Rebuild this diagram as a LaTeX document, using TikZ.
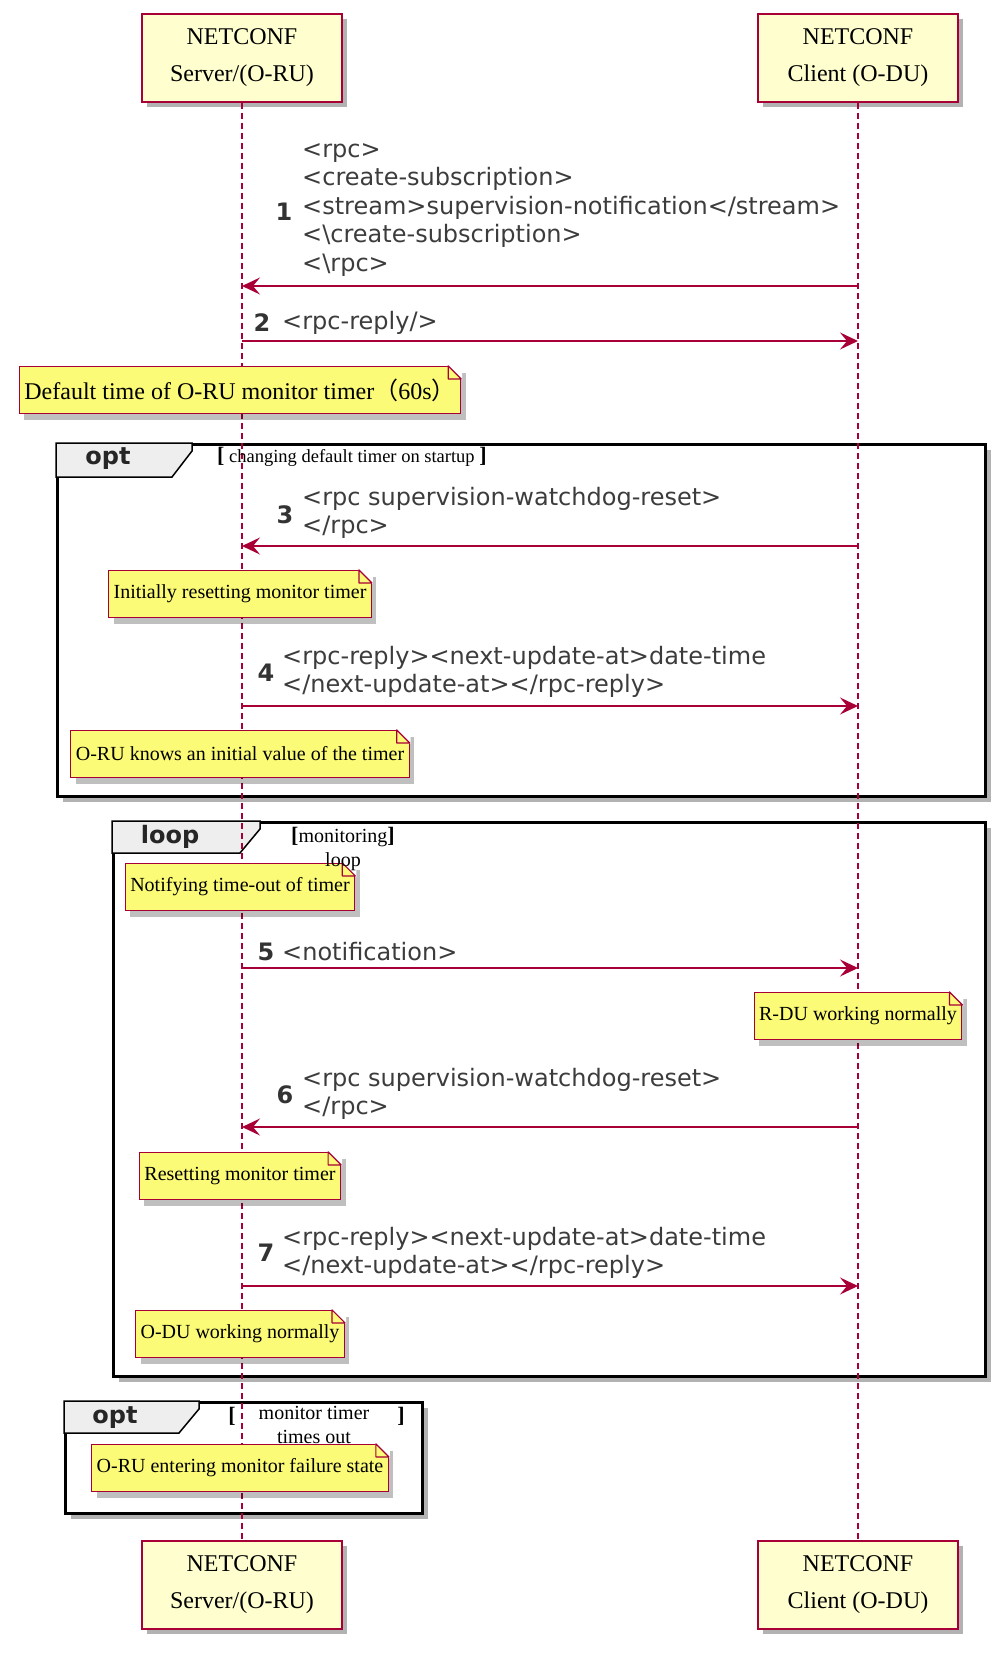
\documentclass[tikz,border=0pt]{standalone}
\usepackage{fontspec}
\setmainfont{Liberation Serif}
\newfontfamily\msgfont{DejaVu Sans}
\newfontfamily\cjk{Noto Sans CJK SC}
\usetikzlibrary{positioning,shadows,arrows.meta}
\definecolor{umlred}{HTML}{A80036}
\definecolor{partfill}{HTML}{FEFECE}
\definecolor{notefill}{HTML}{FBFB77}
\definecolor{tabfill}{HTML}{EEEEEE}
\definecolor{msgtext}{HTML}{3C3C3C}
% folded corner of a note
\def\dogear#1{%
  \fill[white] ([xshift=1pt,yshift=1pt]#1.north east) -- ([xshift=-14.5pt,yshift=1pt]#1.north east) -- ([xshift=1pt,yshift=-14.5pt]#1.north east) -- cycle;
  \filldraw[draw=umlred,fill=notefill,line width=1.2pt,line join=round] ([xshift=-13pt]#1.north east) -- ([xshift=-13pt,yshift=-13pt]#1.north east) -- ([yshift=-13pt]#1.north east) -- cycle;}
\def\brk#1{{\fontsize{22}{22}\selectfont\textbf{#1}}}

\begin{document}
\begin{tikzpicture}[%
        x=1pt,y=-1pt,
        party/.style={%
          draw=umlred, fill=partfill, line width=2pt,
          align=center, minimum width=200pt, minimum height=88pt,
          font=\fontsize{24}{37}\selectfont,
          drop shadow={shadow xshift=5pt,shadow yshift=-5pt,fill=black,opacity=.3}
        },
        life/.style={draw=umlred, line width=1.1pt, dash pattern=on 6pt off 4pt},
        frame/.style={%
          draw=black, fill=white, line width=3pt, anchor=north west,
          drop shadow={shadow xshift=5pt,shadow yshift=-5pt,fill=black,opacity=.3}
        },
        tab/.style={draw=black, fill=tabfill, line width=1.5pt},
        tablabel/.style={font=\msgfont\bfseries\fontsize{24}{28}\selectfont, text=black!85},
        cond/.style={font=\fontsize{20}{24}\selectfont, align=center, inner sep=1pt},
        note/.style={%
          draw=umlred, fill=notefill, line width=1.2pt,
          minimum height=47pt, inner xsep=5pt,
          font=\fontsize{20}{24}\selectfont,
          drop shadow={shadow xshift=5pt,shadow yshift=-6pt,fill=black,opacity=.25}
        },
        msg/.style={draw=umlred, line width=1.5pt, -{Stealth[length=18pt,width=17pt,inset=7pt]}},
        msgtext/.style={font=\msgfont\fontsize{24}{28.5}\selectfont, text=msgtext, align=left, anchor=west, inner sep=0pt},
        msgnum/.style={font=\msgfont\bfseries\fontsize{24}{28}\selectfont, text=black!80, inner sep=0pt}
      ]
      \useasboundingbox (0,0) rectangle (1000,1656);

      % combined fragments
      \node[frame, minimum width=928pt, minimum height=352pt] (opt1) at (56,443) {};
      \node[frame, minimum width=872pt, minimum height=554pt] (loop1) at (112,821) {};
      \node[frame, minimum width=357pt, minimum height=111pt] (opt2) at (64,1401) {};
      \draw[tab] (opt1.north west) -- ++(136,0) -- ++(0,8) -- ++(-20,26) -- ++(-116,0) -- cycle;
      \draw[tab] (loop1.north west) -- ++(148,0) -- ++(0,8) -- ++(-20,24) -- ++(-128,0) -- cycle;
      \draw[tab] (opt2.north west) -- ++(135,0) -- ++(0,8) -- ++(-20,24) -- ++(-115,0) -- cycle;
      \node[tablabel] (opt1lbl) at (108,459) {opt};
      \node[tablabel] (loop1lbl) at (170,837) {loop};
      \node[tablabel] (opt2lbl) at (115,1418) {opt};

      % participants and lifelines
      \node[party] (srvtop) at (242,58) {NETCONF\\Server/(O-RU)};
      \node[party] (clitop) at (858,58) {NETCONF\\Client (O-DU)};
      \node[party] (srvbot) at (242,1585) {NETCONF\\Server/(O-RU)};
      \node[party] (clibot) at (858,1585) {NETCONF\\Client (O-DU)};
      \draw[life] (srvtop) -- (srvbot);
      \draw[life] (clitop) -- (clibot);

      % notes
      \node[note, font=\fontsize{24}{28}\selectfont] (n0) at (240,390) {Default time of O-RU monitor timer{\cjk（}60s{\cjk）}};
      \node[note] (n1) at (240,594) {Initially resetting monitor timer};
      \node[note] (n2) at (240,754) {O-RU knows an initial value of the timer};
      \node[note] (n3) at (240,887) {Notifying time-out of timer};
      \node[note] (n4) at (858,1016) {R-DU working normally};
      \node[note] (n5) at (240,1176) {Resetting monitor timer};
      \node[note] (n6) at (240,1334) {O-DU working normally};
      \node[note] (n7) at (240,1468) {O-RU entering monitor failure state};
      \foreach \n in {n0,n1,n2,n3,n4,n5,n6,n7} {\dogear{\n}}

      % guards
      \node[cond, font=\fontsize{18.5}{22}\selectfont, anchor=west] (opt1cond) at (216,457) {\brk{[} changing default timer on startup \brk{]}};
      \node[cond] (loop1cond) at (343,849) {\brk{[}monitoring\brk{]}\\loop};
      \node[cond] (opt2cond) at (314,1425) {monitor timer\\times out};
      \node[cond] (opt2lb) at (232,1416) {\brk{[}};
      \node[cond] (opt2rb) at (401,1416) {\brk{]}};

      % messages
      \foreach \i/\y in {1/286,2/341,3/546,4/706,5/968,6/1127,7/1286} {
        \coordinate (s\i) at (srvtop |- 0,\y);
        \coordinate (c\i) at (clitop |- 0,\y);
      }
      \draw[msg] (c1) -- (s1);
      \draw[msg] (s2) -- (c2);
      \draw[msg] (c3) -- (s3);
      \draw[msg] (s4) -- (c4);
      \draw[msg] (s5) -- (c5);
      \draw[msg] (c6) -- (s6);
      \draw[msg] (s7) -- (c7);

      \node[msgnum] (k1) at (284,212) {1};
      \node[msgtext] (t1) at (302,210) {<rpc>\\<create-subscription>\\<stream>supervision-notification</stream>\\<\textbackslash create-subscription>\\<\textbackslash rpc>};
      \node[msgnum] (k2) at (262,323) {2};
      \node[msgtext] (t2) at (282,323) {<rpc-reply/>};
      \node[msgnum] (k3) at (285,515) {3};
      \node[msgtext] (t3) at (302,513) {<rpc supervision-watchdog-reset>\\</rpc>};
      \node[msgnum] (k4) at (266,673) {4};
      \node[msgtext] (t4) at (282,672) {<rpc-reply><next-update-at>date-time\\</next-update-at></rpc-reply>};
      \node[msgnum] (k5) at (266,952) {5};
      \node[msgtext] (t5) at (282,952) {<notification>};
      \node[msgnum] (k6) at (285,1095) {6};
      \node[msgtext] (t6) at (302,1094) {<rpc supervision-watchdog-reset>\\</rpc>};
      \node[msgnum] (k7) at (266,1253) {7};
      \node[msgtext] (t7) at (282,1253) {<rpc-reply><next-update-at>date-time\\</next-update-at></rpc-reply>};
  \end{tikzpicture}
\end{document}
